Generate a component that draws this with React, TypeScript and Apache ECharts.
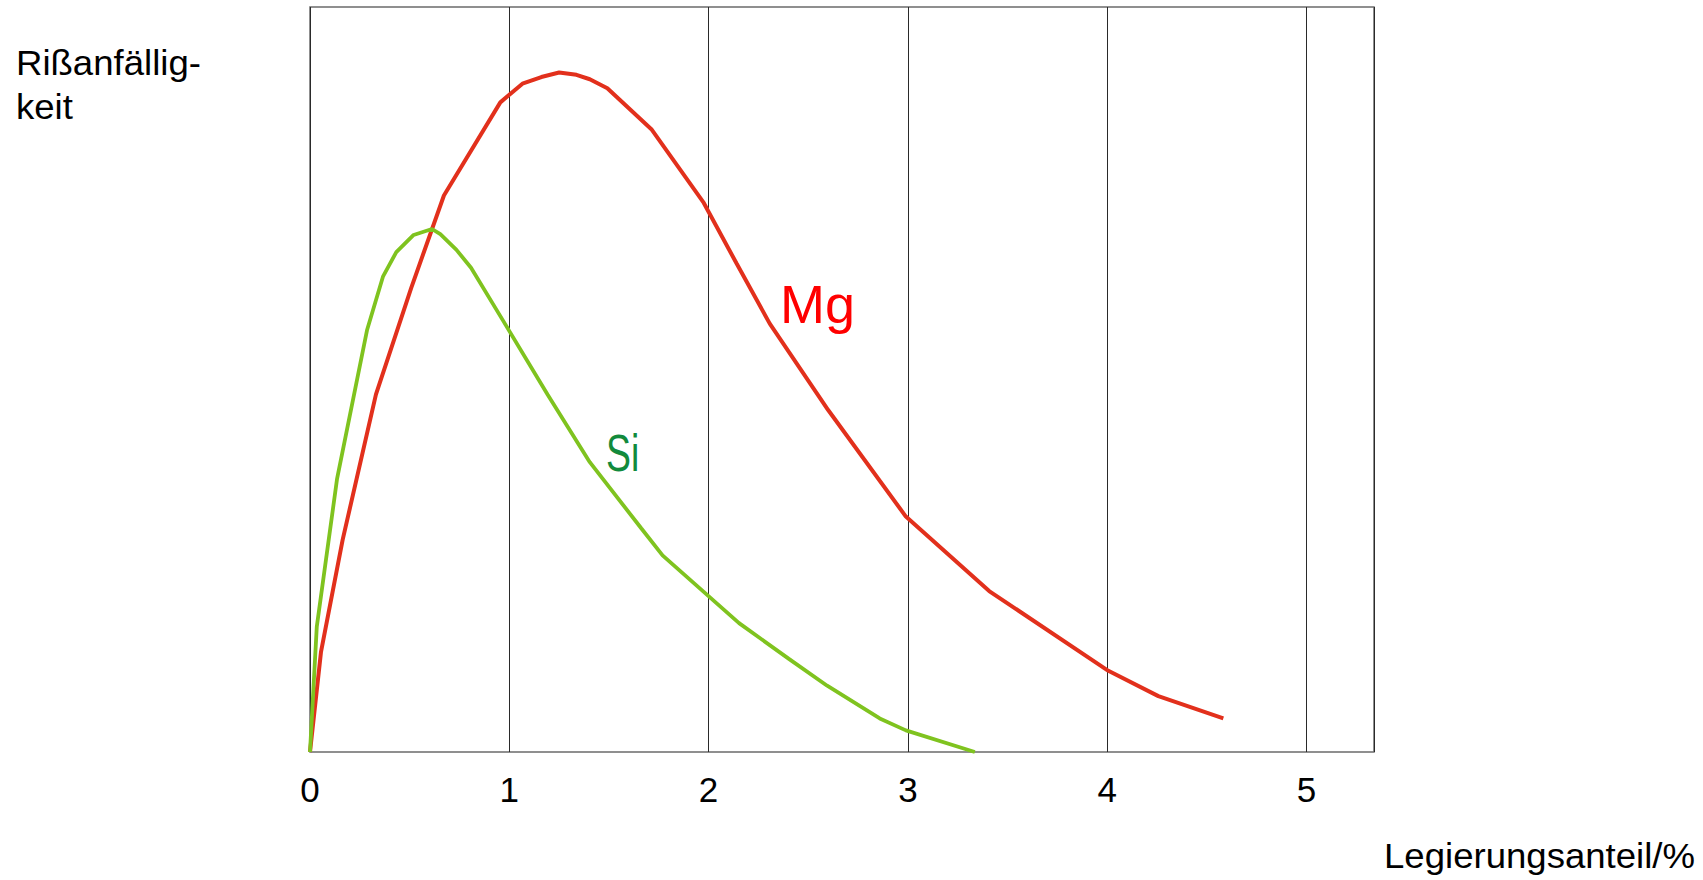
import React, { useEffect, useRef } from "react";
import * as echarts from "echarts";

// Mg curve: x = Legierungsanteil (%), y = relative Rißanfälligkeit (0..100)
const mgX = [0, 0.055, 0.164, 0.331, 0.508, 0.672, 0.955, 1.066, 1.161, 1.25, 1.337, 1.404, 1.492, 1.713, 1.976, 2.14, 2.307, 2.6, 2.99, 3.408, 4.006, 4.257, 4.583];
const mgY = [0, 13.4, 28.5, 48.0, 62.3, 74.7, 87.2, 89.7, 90.6, 91.2, 90.9, 90.3, 89.1, 83.6, 73.7, 65.6, 57.5, 45.9, 31.6, 21.6, 10.9, 7.5, 4.5];

// Si curve
const siX = [0, 0.034, 0.136, 0.286, 0.366, 0.433, 0.52, 0.612, 0.654, 0.735, 0.808, 0.971, 1.192, 1.404, 1.663, 1.769, 1.98, 2.153, 2.403, 2.595, 2.859, 2.99, 3.336];
const siY = [0, 16.8, 36.7, 56.6, 63.8, 67.1, 69.4, 70.2, 69.5, 67.4, 65.0, 57.8, 48.0, 38.9, 30.0, 26.4, 21.4, 17.3, 12.5, 8.9, 4.5, 2.9, 0];

const xTicks = [0, 1, 2, 3, 4, 5];
const xMax = 5.339;
const yTitleLines = ["Rißanfällig-", "keit"];
const xTitle = "Legierungsanteil/%";
const seriesNames = ["Mg", "Si"];

const FONT = "'Liberation Sans', Arial, Helvetica, sans-serif";

export default function App() {
  const ref = useRef<HTMLDivElement>(null);

  useEffect(() => {
    if (!ref.current) return;
    const chart = echarts.init(ref.current, undefined, { renderer: "svg" });
    const mgData = mgX.map((x, i) => [x, mgY[i]]);
    const siData = siX.map((x, i) => [x, siY[i]]);

    chart.setOption({
      animation: false,
      backgroundColor: "#ffffff",
      grid: {
        left: 310,
        top: 7,
        width: 1064,
        height: 745,
        show: true,
        borderColor: "#6b6b6b",
        borderWidth: 1.5,
        backgroundColor: "transparent",
      },
      xAxis: {
        type: "value",
        min: 0,
        max: xMax,
        interval: 1,
        axisLine: { show: false },
        axisTick: { show: false },
        splitLine: { show: true, lineStyle: { color: "#2a2a2a", width: 1 } },
        axisLabel: {
          show: true,
          margin: 20,
          fontSize: 35,
          color: "#000",
          fontFamily: FONT,
          formatter: (v: number) => (xTicks.includes(Math.round(v * 1000) / 1000) ? String(v) : ""),
          showMaxLabel: true,
        },
      },
      yAxis: {
        type: "value",
        min: 0,
        max: 100,
        show: false,
        splitLine: { show: false },
      },
      series: [
        {
          name: seriesNames[0],
          type: "line",
          data: mgData,
          showSymbol: false,
          symbol: "none",
          clip: false,
          lineStyle: { color: "#e2301c", width: 4 },
          z: 3,
        },
        {
          name: seriesNames[1],
          type: "line",
          data: siData,
          showSymbol: false,
          symbol: "none",
          clip: false,
          lineStyle: { color: "#7fc31f", width: 3.8 },
          z: 4,
        },
      ],
      graphic: [
        {
          type: "text",
          x: 16,
          y: 63.5,
          scaleX: 1.045,
          style: {
            text: yTitleLines[0],
            font: `35px ${FONT}`,
            fill: "#000",
            verticalAlign: "middle",
            align: "left",
          },
        },
        {
          type: "text",
          x: 16,
          y: 107.5,
          scaleX: 1.045,
          style: {
            text: yTitleLines[1],
            font: `35px ${FONT}`,
            fill: "#000",
            verticalAlign: "middle",
            align: "left",
          },
        },
        {
          type: "text",
          x: 1695,
          y: 856,
          scaleX: 1.045,
          style: {
            text: xTitle,
            font: `35px ${FONT}`,
            fill: "#000",
            verticalAlign: "middle",
            align: "right",
          },
        },
        {
          type: "text",
          x: 780,
          y: 304,
          style: {
            text: seriesNames[0],
            font: `54px ${FONT}`,
            fill: "#ff0000",
            verticalAlign: "middle",
            align: "left",
          },
        },
        {
          type: "text",
          x: 606,
          y: 453.5,
          scaleX: 0.72,
          style: {
            text: seriesNames[1],
            font: `52px ${FONT}`,
            fill: "#128a3c",
            verticalAlign: "middle",
            align: "left",
          },
        },
      ],
    });

    return () => {
      chart.dispose();
    };
  }, []);

  return (
    <div
      ref={ref}
      style={{ position: "fixed", left: 0, top: 0, width: 1703, height: 880, background: "#fff" }}
    />
  );
}
